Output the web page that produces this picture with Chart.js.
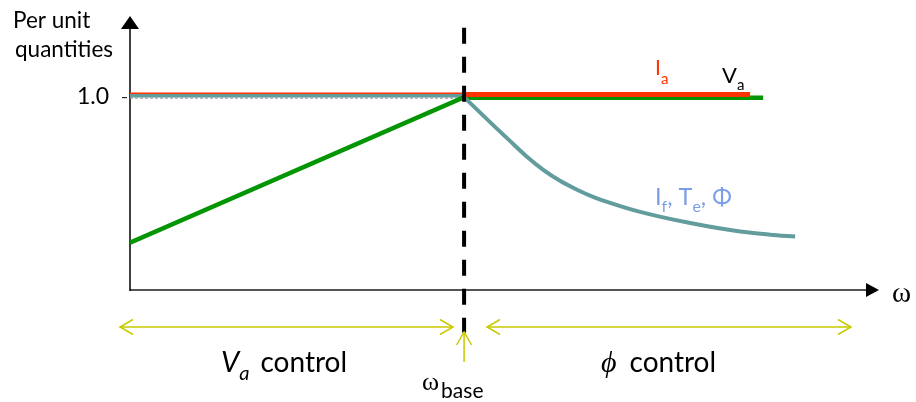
<!DOCTYPE html>
<html>
<head>
<meta charset="utf-8">
<script src="https://cdn.jsdelivr.net/npm/chart.js@4.4.1/dist/chart.umd.min.js"></script>
<style>
  html, body { margin: 0; padding: 0; background: #fff; }
  #wrap { width: 916px; height: 402px; }
</style>
</head>
<body>
<div id="wrap"><canvas id="chart" width="916" height="402"></canvas></div>
<script>
// speed in per unit of base speed, quantities in per unit
const omegaBase = 1.0;
const yTicks = [1.0];

// armature voltage: rises linearly up to base speed, then held
const vaOmega = [0, 1.0, 1.0, 1.895];
const vaValues = [0.245, 1.0, 0.997, 0.997];

// armature current: rated over the whole range
const iaOmega = [0, 1.0, 1.0, 1.856];
const iaValues = [1.02, 1.02, 1.014, 1.014];

// field current / torque / flux: constant, then falling in field weakening
const fluxOmega = [0, 1.024];
const fluxValues = [1.008, 1.008];
const weakOmega = [1.0, 1.045, 1.087, 1.138, 1.189, 1.237, 1.287, 1.338, 1.386, 1.437, 1.527, 1.677, 1.826, 1.916, 1.991];
const weakValues = [1.0, 0.925, 0.855, 0.772, 0.690, 0.623, 0.566, 0.520, 0.483, 0.452, 0.405, 0.347, 0.303, 0.287, 0.277];

// reference level drawn dashed
const refOmega = [0, 1.0];
const refValues = [0.995, 0.995];

const pts = (xs, ys) => xs.map((x, i) => ({ x, y: ys[i] }));

const FONT = '"Lato", "Open Sans", sans-serif';
const SERIF = '"Liberation Serif", "DejaVu Serif", serif';
const YELLOW = "#c9c900";

function drawParts(ctx, x, y, parts) {
    parts.forEach(p => {
        ctx.font = p.font;
        ctx.fillStyle = p.color || "#000";
        ctx.fillText(p.t, x, y + (p.dy || 0));
        x += ctx.measureText(p.t).width + (p.gap || 0);
    });
}

function chevron(ctx, tx, ty, dx, dy) {
    // open arrow head pointing along (dx, dy)
    const len = 13, half = 7.5;
    const px = -dy, py = dx;
    ctx.beginPath();
    ctx.moveTo(tx - dx * len + px * half, ty - dy * len + py * half);
    ctx.lineTo(tx, ty);
    ctx.lineTo(tx - dx * len - px * half, ty - dy * len - py * half);
    ctx.stroke();
}

const diagram = {
    id: "diagram",
    beforeDatasetsDraw(chart) {
        const { ctx, scales: { x, y } } = chart;
        const x0 = x.getPixelForValue(0);
        const y0 = y.getPixelForValue(0);
        ctx.save();

        // horizontal axis with arrow
        ctx.strokeStyle = "#555";
        ctx.lineWidth = 2;
        ctx.beginPath();
        ctx.moveTo(x0, y0);
        ctx.lineTo(868, y0);
        ctx.stroke();
        ctx.fillStyle = "#000";
        ctx.beginPath();
        ctx.moveTo(879, y0);
        ctx.lineTo(866, y0 - 7);
        ctx.lineTo(866, y0 + 7);
        ctx.closePath();
        ctx.fill();

        // vertical axis with arrow
        ctx.strokeStyle = "#000";
        ctx.lineWidth = 1.5;
        ctx.beginPath();
        ctx.moveTo(x0, y0 + 1);
        ctx.lineTo(x0, 28);
        ctx.stroke();
        ctx.beginPath();
        ctx.moveTo(x0, 16);
        ctx.lineTo(x0 - 9, 29);
        ctx.lineTo(x0 + 9, 29);
        ctx.closePath();
        ctx.fill();

        // tick labels
        ctx.font = "23px " + FONT;
        ctx.textAlign = "right";
        ctx.textBaseline = "middle";
        yTicks.forEach(v => {
            const py = y.getPixelForValue(v);
            ctx.fillStyle = "#000";
            ctx.fillText(v.toFixed(1), 109, py - 1);
            ctx.lineWidth = 1;
            ctx.beginPath();
            ctx.moveTo(122, py + 0.5);
            ctx.lineTo(127, py + 0.5);
            ctx.stroke();
        });
        ctx.restore();
    },
    afterDatasetsDraw(chart) {
        const { ctx, scales: { x } } = chart;
        const xb = x.getPixelForValue(omegaBase);
        ctx.save();
        ctx.textAlign = "left";
        ctx.textBaseline = "alphabetic";

        // axis titles
        ctx.fillStyle = "#000";
        ctx.font = "22.5px " + FONT;
        ctx.fillText("Per unit", 13, 28);
        ctx.fillText("quantities", 15, 57);
        ctx.font = "29px " + SERIF;
        ctx.fillText("ω", 892, 302);

        // curve labels
        drawParts(ctx, 655, 75, [
            { t: "I", font: "21px " + FONT, color: "#ff3300" },
            { t: "a", font: "15px " + FONT, color: "#ff3300", dy: 9 }
        ]);
        drawParts(ctx, 722, 83, [
            { t: "V", font: "22px " + FONT, color: "#000" },
            { t: "a", font: "15px " + FONT, color: "#000", dy: 7 }
        ]);
        const lb = "#7b9ee8";
        drawParts(ctx, 655, 205, [
            { t: "I", font: "23.5px " + FONT, color: lb },
            { t: "f", font: "16px " + FONT, color: lb, dy: 7 },
            { t: ", T", font: "23.5px " + FONT, color: lb },
            { t: "e", font: "16px " + FONT, color: lb, dy: 7 },
            { t: ", Φ", font: "23.5px " + FONT, color: lb }
        ]);

        // control region arrows
        ctx.strokeStyle = YELLOW;
        ctx.lineWidth = 1.5;
        const ya = 327;
        ctx.beginPath();
        ctx.moveTo(120, ya); ctx.lineTo(453, ya);
        ctx.moveTo(487, ya); ctx.lineTo(851, ya);
        ctx.moveTo(xb, 362); ctx.lineTo(xb, 332);
        ctx.stroke();
        chevron(ctx, 120, ya, -1, 0);
        chevron(ctx, 453, ya, 1, 0);
        chevron(ctx, 487, ya, -1, 0);
        chevron(ctx, 851, ya, 1, 0);
        chevron(ctx, xb, 332, 0, -1);

        // region labels
        drawParts(ctx, 221, 372, [
            { t: "V", font: "italic 29px " + FONT, color: "#000" },
            { t: "a", font: "italic 20px " + FONT, color: "#000", dy: 8, gap: 11 },
            { t: "control", font: "28px " + FONT, color: "#000" }
        ]);
        drawParts(ctx, 601, 372, [
            { t: "ϕ", font: "italic 30px " + SERIF, color: "#000", gap: 13 },
            { t: "control", font: "28px " + FONT, color: "#000" }
        ]);
        drawParts(ctx, 422, 390, [
            { t: "ω", font: "26px " + SERIF, color: "#000", gap: 2 },
            { t: "base", font: "21px " + FONT, color: "#000", dy: 8 }
        ]);
        ctx.restore();
    }
};

new Chart(document.getElementById("chart"), {
    type: "line",
    data: {
        datasets: [
            {
                label: "base speed",
                data: [{ x: omegaBase, y: 1.36 }, { x: omegaBase, y: -0.22 }],
                borderColor: "#000",
                borderWidth: 4,
                borderDash: [16, 13],
                clip: false
            },
            {
                label: "Ia",
                data: pts(iaOmega, iaValues).slice(2),
                borderColor: "#ff3300",
                borderWidth: 5
            },
            {
                label: "If, Te, Phi (weakening)",
                data: pts(weakOmega, weakValues),
                borderColor: "#639c9d",
                borderWidth: 4,
                cubicInterpolationMode: "monotone"
            },
            {
                label: "Va",
                data: pts(vaOmega, vaValues),
                borderColor: "#039503",
                borderWidth: 4.5
            },
            {
                label: "Ia (constant flux)",
                data: pts(iaOmega, iaValues).slice(0, 2),
                borderColor: "#ff3300",
                borderWidth: 1.5
            },
            {
                label: "If, Te, Phi",
                data: pts(fluxOmega, fluxValues),
                borderColor: "#639c9d",
                borderWidth: 4
            },
            {
                label: "reference",
                data: pts(refOmega, refValues),
                borderColor: "#8a8a8a",
                borderWidth: 1,
                borderDash: [3, 2]
            }
        ]
    },
    options: {
        responsive: false,
        animation: false,
        devicePixelRatio: 1,
        layout: { padding: { left: 130, right: 51, top: 20, bottom: 112 } },
        elements: { point: { radius: 0 }, line: { tension: 0 } },
        plugins: { legend: { display: false }, tooltip: { enabled: false } },
        scales: {
            x: { type: "linear", min: 0, max: 2.2, display: false },
            y: { type: "linear", min: 0, max: 1.4, display: false }
        }
    },
    plugins: [diagram]
});
</script>
</body>
</html>
